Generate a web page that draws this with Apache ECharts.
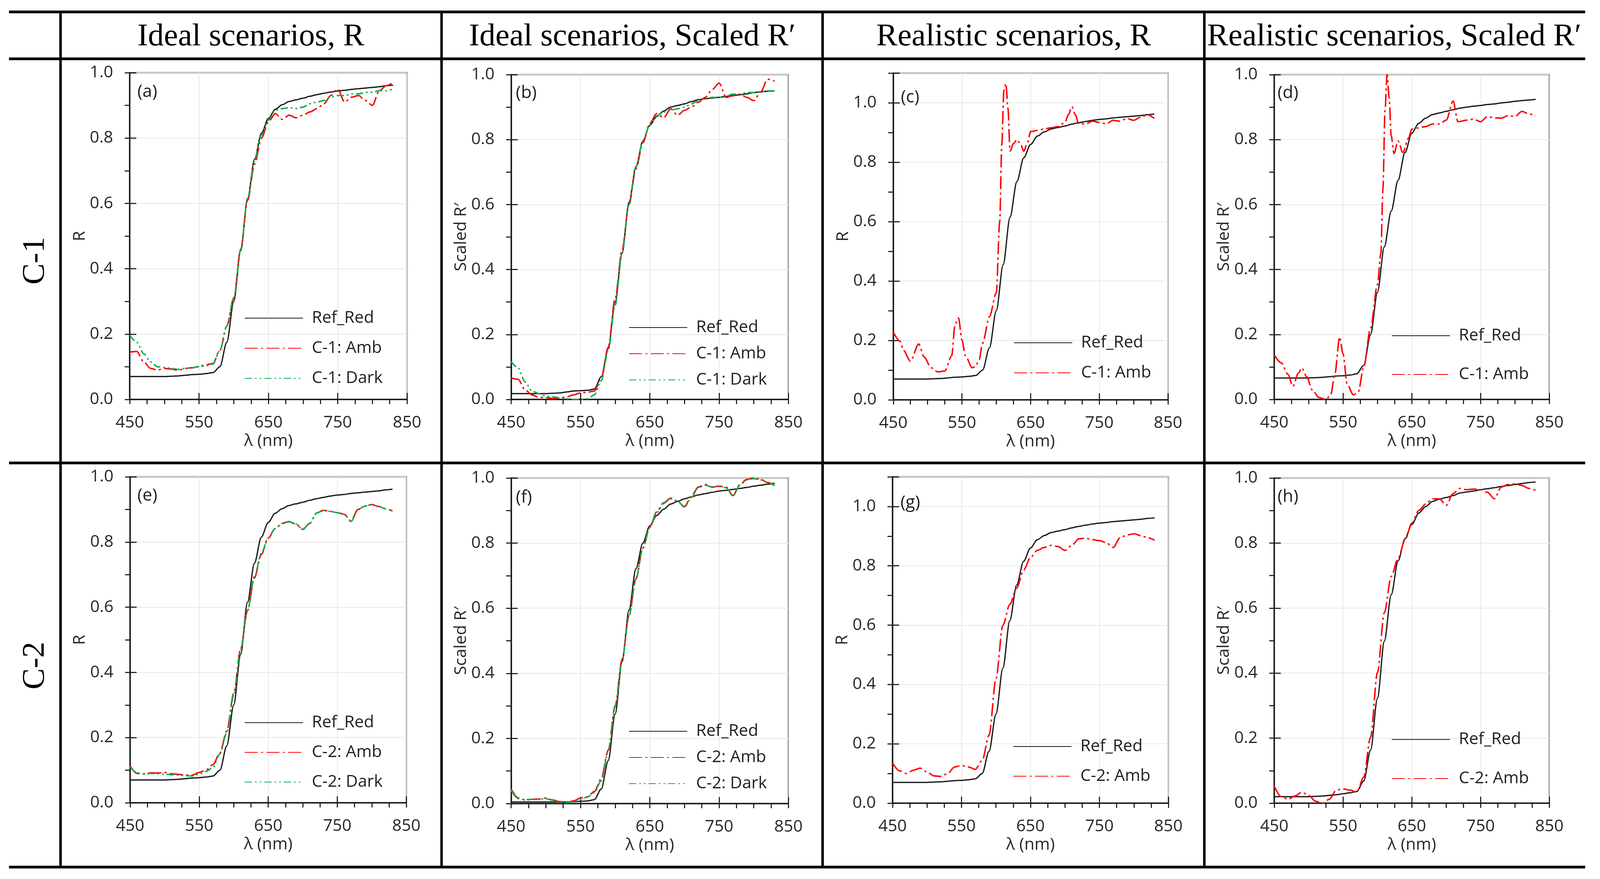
<!DOCTYPE html>
<html>
<head>
<meta charset="utf-8">
<title>Reflectance spectra – ideal and realistic scenarios</title>
<script src="https://cdn.jsdelivr.net/npm/echarts@6.0.0/dist/echarts.min.js"></script>
<style>
html,body{margin:0;padding:0;background:#ffffff;overflow:hidden;}
#chart{position:absolute;left:0;top:0;}
</style>
</head>
<body>
<div id="chart"></div>
<script>
// ================= DATA =================
// common wavelength sampling (nm)
const wl = [450,460,470,480,490,500,510,520,530,540,550,560,570,580,590,600,610,620,630,640,650,660,670,680,690,700,710,720,730,740,750,760,770,780,790,800,810,820,830];

// Reference (Ref_Red), R
const refR = [.070,.070,.070,.070,.070,.070,.071,.072,.074,.076,.077,.079,.082,.100,.175,.300,.455,.615,.735,.815,.860,.888,.902,.912,.917,.922,.928,.933,.937,.941,.944,.946,.949,.951,.953,.955,.957,.960,.962];

// (a) C-1 ideal, R
const c1IdealAmbR  = [.145,.147,.115,.095,.090,.095,.093,.089,.095,.097,.101,.106,.110,.150,.225,.310,.460,.610,.720,.800,.850,.875,.857,.870,.862,.870,.880,.890,.905,.930,.950,.910,.925,.930,.915,.900,.945,.960,.970];
const c1IdealDarkR = [.197,.175,.140,.115,.100,.098,.095,.092,.095,.097,.100,.103,.108,.150,.225,.310,.460,.615,.730,.810,.855,.885,.890,.893,.890,.895,.905,.910,.915,.925,.930,.930,.935,.935,.940,.940,.945,.945,.950];

// (b) C-1 ideal, scaled R'
const refScaledC1Ideal = [.018,.018,.018,.018,.018,.018,.019,.020,.023,.026,.027,.028,.032,.070,.156,.300,.450,.607,.717,.796,.844,.871,.888,.900,.905,.910,.917,.923,.926,.928,.930,.933,.936,.938,.941,.945,.947,.949,.950];
const c1IdealAmbS  = [.066,.062,.030,.014,.006,.006,.003,.004,.008,.014,.020,.022,.026,.066,.160,.310,.460,.600,.710,.790,.850,.880,.867,.895,.875,.890,.900,.915,.930,.954,.974,.930,.935,.940,.930,.920,.947,.986,.980];
const c1IdealDarkS = [.117,.097,.054,.026,.018,.010,.008,.005,.002,.000,.000,.002,.014,.058,.150,.290,.450,.600,.715,.795,.845,.873,.885,.890,.895,.900,.910,.920,.925,.930,.930,.935,.940,.940,.945,.945,.948,.950,.950];

// (c) C-1 realistic, R
const wlC1RealR  = [450,460,465,475,487,495,505,515,525,535,540,545,550,555,565,570,575,580,590,600,605,608,611,614,617,620,625,630,635,640,645,650,660,670,680,690,700,705,710,715,720,730,740,750,760,770,780,790,800,810,820,830];
const c1RealAmbR = [.228,.197,.166,.130,.188,.144,.108,.094,.097,.148,.254,.276,.201,.148,.108,.113,.135,.190,.280,.360,.600,.860,1.040,1.065,.980,.837,.863,.876,.863,.837,.863,.903,.907,.912,.916,.920,.934,.960,.987,.960,.929,.929,.938,.934,.929,.941,.938,.947,.941,.951,.960,.947];

// (d) C-1 realistic, scaled R'
const refScaledC1Real = [.066,.066,.066,.066,.066,.066,.067,.068,.070,.072,.073,.075,.079,.105,.200,.330,.470,.580,.675,.760,.820,.850,.866,.877,.882,.887,.892,.897,.900,.903,.905,.908,.910,.913,.915,.918,.920,.922,.924];
const wlC1RealS  = [450,460,470,477,485,490,497,505,515,525,532,538,545,550,556,565,572,580,590,600,605,608,611,614,617,620,624,630,637,645,650,660,670,680,690,700,710,717,730,740,750,760,770,780,790,800,810,820,830];
const c1RealAmbS = [.137,.113,.077,.040,.081,.097,.070,.030,.006,.000,.014,.077,.192,.140,.046,.014,.022,.100,.220,.354,.450,.650,.890,1.000,.930,.812,.757,.796,.760,.804,.832,.836,.840,.848,.848,.860,.919,.855,.860,.863,.855,.871,.867,.866,.874,.871,.887,.879,.874];

// (e) C-2 ideal, R
const c2IdealAmbR  = [.113,.090,.089,.092,.091,.093,.089,.087,.085,.085,.093,.101,.117,.153,.220,.335,.472,.590,.690,.762,.812,.841,.857,.863,.855,.839,.857,.889,.897,.894,.890,.885,.865,.900,.910,.915,.909,.902,.895];
const c2IdealDarkR = [.110,.092,.088,.090,.089,.088,.086,.085,.083,.082,.088,.096,.108,.150,.215,.330,.470,.590,.694,.765,.813,.841,.857,.862,.855,.838,.857,.889,.897,.894,.890,.885,.863,.900,.910,.915,.909,.902,.895];

// (f) C-2 ideal, scaled R'
const refScaledC2Ideal = [.005,.005,.005,.005,.005,.005,.005,.005,.005,.006,.007,.008,.012,.045,.132,.275,.435,.594,.721,.800,.853,.885,.904,.920,.928,.936,.942,.948,.952,.956,.960,.962,.965,.968,.971,.975,.978,.981,.984];
const c2IdealAmbS  = [.045,.017,.011,.013,.014,.017,.011,.006,.005,.008,.017,.021,.037,.076,.164,.300,.443,.578,.690,.785,.849,.896,.924,.938,.928,.912,.944,.972,.980,.972,.975,.972,.946,.980,.996,1.000,.996,.986,.978];
const c2IdealDarkS = [.040,.015,.012,.013,.013,.015,.010,.005,.003,.006,.014,.020,.033,.070,.160,.297,.440,.575,.690,.783,.848,.893,.922,.936,.930,.910,.940,.970,.978,.972,.974,.970,.945,.978,.994,.998,.994,.986,.976];

// (g) C-2 realistic, R
const c2RealAmbR = [.135,.109,.100,.111,.118,.105,.092,.090,.100,.122,.127,.122,.114,.144,.230,.420,.600,.670,.725,.785,.828,.852,.862,.869,.865,.852,.869,.891,.893,.888,.885,.878,.862,.895,.904,.908,.902,.895,.886];

// (h) C-2 realistic, scaled R'
const refScaledC2Real = [.020,.020,.020,.020,.020,.020,.021,.022,.024,.026,.029,.032,.036,.068,.163,.323,.498,.641,.745,.813,.857,.892,.912,.928,.935,.940,.946,.954,.957,.960,.964,.967,.970,.974,.977,.980,.983,.986,.988];
const c2RealAmbS = [.052,.020,.012,.022,.034,.024,.006,.000,.012,.040,.044,.040,.034,.080,.203,.402,.586,.697,.753,.809,.861,.900,.920,.936,.936,.916,.952,.968,.964,.966,.964,.956,.936,.972,.980,.982,.977,.968,.962];

// text
const colHeaders = ['Ideal scenarios, R', 'Ideal scenarios, Scaled R\u2032', 'Realistic scenarios, R', 'Realistic scenarios, Scaled R\u2032'];
const rowHeaders = ['C-1', 'C-2'];
const panelTags = ['(a)','(b)','(c)','(d)','(e)','(f)','(g)','(h)'];
const xName = '\u03bb (nm)';
const yNames = ['R', 'Scaled R\u2032', 'R', 'Scaled R\u2032', 'R', 'Scaled R\u2032', 'R', 'Scaled R\u2032'];
const xMin = 450, xMax = 850, xMajor = 100, xMinor = 25;
const yMajor = 0.2, yMinor = 0.1;
const yMaxes = [1.0, 1.0, 1.1, 1.0, 1.0, 1.0, 1.1, 1.0];

// series per panel: [name, kind, x array, y array]
const panelSeries = [
  [['Ref_Red','ref',wl,refR], ['C-1: Amb','amb',wl,c1IdealAmbR], ['C-1: Dark','dark',wl,c1IdealDarkR]],
  [['Ref_Red','ref',wl,refScaledC1Ideal], ['C-1: Amb','amb',wl,c1IdealAmbS], ['C-1: Dark','dark',wl,c1IdealDarkS]],
  [['Ref_Red','ref',wl,refR], ['C-1: Amb','amb',wlC1RealR,c1RealAmbR]],
  [['Ref_Red','ref',wl,refScaledC1Real], ['C-1: Amb','amb',wlC1RealS,c1RealAmbS]],
  [['Ref_Red','ref',wl,refR], ['C-2: Amb','amb',wl,c2IdealAmbR], ['C-2: Dark','dark',wl,c2IdealDarkR]],
  [['Ref_Red','ref',wl,refScaledC2Ideal], ['C-2: Amb','amb',wl,c2IdealAmbS], ['C-2: Dark','dark',wl,c2IdealDarkS]],
  [['Ref_Red','ref',wl,refR], ['C-2: Amb','amb',wl,c2RealAmbR]],
  [['Ref_Red','ref',wl,refScaledC2Real], ['C-2: Amb','amb',wl,c2RealAmbS]]
];

// ================= LAYOUT / STYLE =================
// design space is 4426 x 2249; fit it to the actual viewport
const DW = 4426, DH = 2249;
const VW = window.innerWidth || DW, VH = window.innerHeight || DH;
const sx = VW / DW, sy = VH / DH, sf = Math.min(sx, sy);
const X = v => v * sx, Y = v => v * sy, F = v => v * sf;

const el = document.getElementById('chart');
el.style.width = VW + 'px';
el.style.height = VH + 'px';

const SANS = "'Open Sans', 'Noto Sans', sans-serif";
const SERIF = "'Liberation Serif', 'DejaVu Serif', serif";
const FS = F(46);
const INK = '#1a1a1a';
const LABEL = '#262626';

// grid boxes [left, top, width, height]
const gridBoxes = [
  [359, 186, 767, 836], [1414, 191, 767, 831], [2471, 187, 760, 836], [3525, 191, 761, 831],
  [360, 1220, 764, 834], [1414, 1223, 767, 833], [2469, 1220, 763, 835], [3525, 1223, 761, 832]
];
// legend [left, top, itemGap]
const legendBoxes = [
  [676, 792, 33], [1739, 816, 23], [2804, 855, 33], [3849, 837, 55],
  [676, 1827, 32], [1739, 1849, 23], [2802, 1888, 32], [3849, 1870, 56]
];
// panel tag positions (left, middle)
const tagPos = [[380,235],[1427,238],[2492,249],[3534,238],[380,1268],[1427,1273],[2491,1286],[3534,1271]];

const lineStyles = {
  ref:  {color: INK, width: F(3.5), type: 'solid'},
  amb:  {color: '#ff0000', width: F(4), type: [36, 9, 6, 9].map(F)},
  dark: {color: '#00b050', width: F(4), type: [20, 8, 5, 8, 5, 8].map(F)}
};

const grids = [], xAxes = [], yAxes = [], series = [], legends = [];

// tick helper: minor ticks outside, major ticks crossing into the plot
const tickAxis = (base, interval, inside, length) => Object.assign({}, base, {
  interval: interval,
  axisLine: {show: false, onZero: false},
  axisTick: {show: true, inside: inside, length: F(length), lineStyle: {color: INK, width: F(3)}},
  axisLabel: {show: false}, splitLine: {show: false}, name: ''
});

gridBoxes.forEach((b, i) => {
  grids.push({left: X(b[0]), top: Y(b[1]), width: X(b[2]), height: Y(b[3]), show: true,
              borderColor: INK, borderWidth: F(3), backgroundColor: 'transparent'});
  const xi = xAxes.length, yi = yAxes.length;
  const xBase = {type: 'value', gridIndex: i, min: xMin, max: xMax, position: 'bottom'};
  xAxes.push(Object.assign({}, xBase, {
    interval: xMajor,
    axisLine: {show: true, onZero: false, lineStyle: {color: INK, width: F(4)}},
    axisTick: {show: false},
    axisLabel: {show: true, margin: Y(38), fontSize: FS, fontFamily: SANS, color: LABEL},
    splitLine: {show: true, lineStyle: {color: '#e8e8e8', width: F(2)}},
    name: xName, nameLocation: 'middle', nameGap: Y(85),
    nameTextStyle: {fontSize: FS, fontFamily: SANS, color: LABEL}
  }));
  xAxes.push(tickAxis(xBase, xMinor, false, 13));
  xAxes.push(tickAxis(xBase, xMajor, true, 18));

  const ymax = yMaxes[i];
  const yBase = {type: 'value', gridIndex: i, min: 0, max: ymax, position: 'left'};
  yAxes.push(Object.assign({}, yBase, {
    interval: yMajor,
    axisLine: {show: true, onZero: false, lineStyle: {color: INK, width: F(4)}},
    axisTick: {show: false},
    axisLabel: {show: true, margin: X(46), fontSize: FS, fontFamily: SANS, color: LABEL,
                formatter: v => (v > 1.001 ? '' : v.toFixed(1))},
    splitLine: {show: true, lineStyle: {color: '#e8e8e8', width: F(2)}},
    name: yNames[i], nameLocation: 'middle', nameGap: X(110), nameRotate: 90,
    nameTextStyle: {fontSize: FS, fontFamily: SANS, color: LABEL}
  }));
  yAxes.push(tickAxis(yBase, yMinor, false, 14));
  yAxes.push(tickAxis(yBase, yMajor, true, 18));

  const names = [];
  panelSeries[i].forEach(([name, kind, xs, ys]) => {
    names.push(name);
    series.push({
      type: 'line', name: name, xAxisIndex: xi, yAxisIndex: yi,
      data: xs.map((x, k) => [x, ys[k]]),
      symbol: 'none', showSymbol: false, smooth: 0.3, smoothMonotone: 'x',
      lineStyle: Object.assign({}, lineStyles[kind]),
      itemStyle: {color: lineStyles[kind].color},
      emphasis: {disabled: true}, animation: false, clip: true
    });
  });
  const L = legendBoxes[i];
  legends.push({
    show: true, orient: 'vertical', left: X(L[0]), top: Y(L[1]), padding: 0,
    itemWidth: X(161), itemHeight: Y(44), itemGap: Y(L[2]), selectedMode: false,
    itemStyle: {opacity: 0},
    data: names,
    textStyle: {fontSize: FS, fontFamily: SANS, color: '#1f1f1f', lineHeight: Y(44), padding: [0, 0, 0, X(19)]}
  });
});

// table rules & texts
const graphics = [];
const hRule = (y, h) => graphics.push({type: 'rect', shape: {x: X(25), y: Y(y), width: X(4360), height: Y(h)}, style: {fill: '#000'}, z: 100});
const vRule = (x) => graphics.push({type: 'rect', shape: {x: X(x), y: Y(27), width: X(7), height: Y(2195)}, style: {fill: '#000'}, z: 100});
hRule(27, 7); hRule(147, 7); hRule(1181, 7); hRule(2215, 7);
[164, 1218, 2272, 3328].forEach(vRule);

const colCenters = [694, 1749, 2804, 3857];
colHeaders.forEach((t, k) => graphics.push({
  type: 'text', x: X(colCenters[k]), y: Y(95), z: 100,
  style: {text: t, x: 0, y: 0, font: F(88) + 'px ' + SERIF, fill: '#000',
          align: 'center', verticalAlign: 'middle', textAlign: 'center', textVerticalAlign: 'middle'}
}));
const rowCenters = [667, 1703];
rowHeaders.forEach((t, k) => graphics.push({
  type: 'text', x: X(98), y: Y(rowCenters[k]), rotation: Math.PI / 2, z: 100,
  style: {text: t, x: 0, y: 0, font: F(88) + 'px ' + SERIF, fill: '#000',
          align: 'center', verticalAlign: 'middle', textAlign: 'center', textVerticalAlign: 'middle'}
}));
panelTags.forEach((t, k) => graphics.push({
  type: 'text', x: X(tagPos[k][0]), y: Y(tagPos[k][1]), z: 100,
  style: {text: t, x: 0, y: 0, font: F(48) + 'px ' + SANS, fill: '#1f1f1f',
          align: 'left', verticalAlign: 'middle', textAlign: 'left', textVerticalAlign: 'middle'}
}));

const option = {
  backgroundColor: '#ffffff',
  animation: false,
  grid: grids,
  xAxis: xAxes,
  yAxis: yAxes,
  legend: legends,
  series: series,
  graphic: {elements: graphics}
};

const chart = echarts.init(el, null, {renderer: 'canvas', width: VW, height: VH});
chart.setOption(option);
</script>
</body>
</html>
